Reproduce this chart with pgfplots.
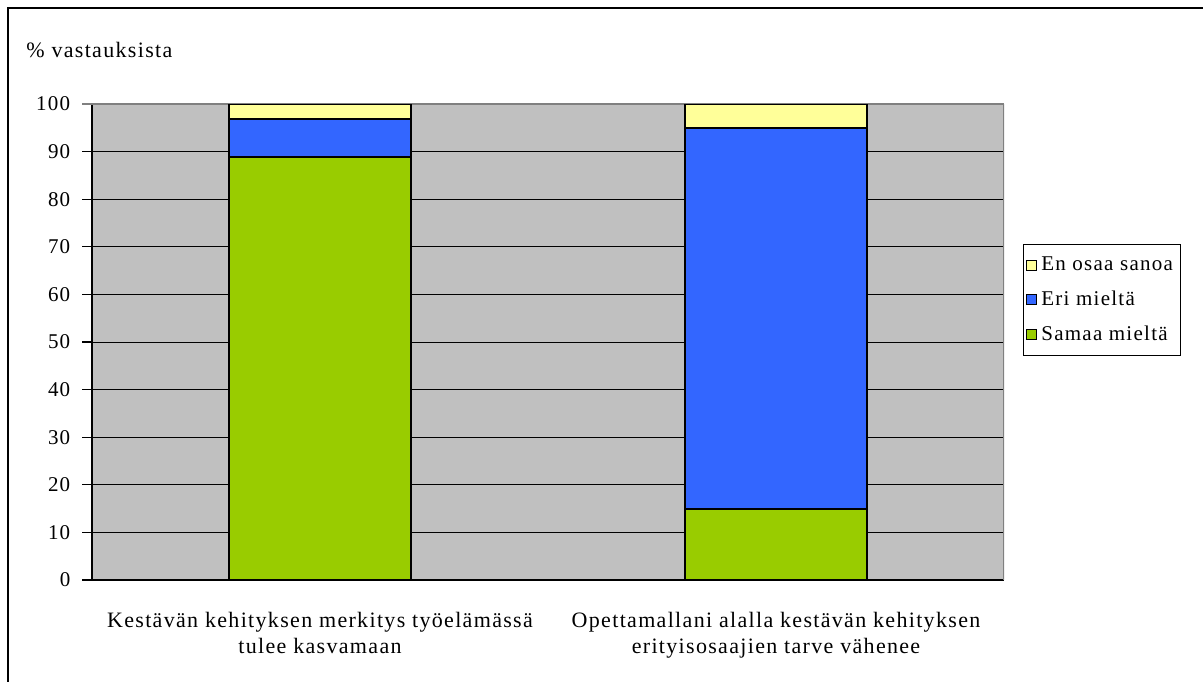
\documentclass[border=0pt]{standalone}
\usepackage{fontspec}
\setmainfont{Liberation Serif}[LetterSpace=6]
\usepackage{pgfplots}
\pgfplotsset{compat=1.18}
\definecolor{cgreen}{HTML}{99CC00}
\definecolor{cblue}{HTML}{3366FF}
\definecolor{cyellow}{HTML}{FFFF99}
\definecolor{cgray}{HTML}{C0C0C0}
\definecolor{cdark}{HTML}{808080}
\begin{document}
\fontsize{11pt}{13pt}\selectfont
\begin{tikzpicture}[x=0.5pt,y=0.5pt]
\useasboundingbox (0,0) rectangle (1203,681);
\clip (0,0) rectangle (1203,681);
\draw[line width=1.2pt] (8,-20) -- (8,673) -- (1230,673);
\node[anchor=base west,inner sep=0pt,font=\fontsize{11pt}{13pt}\selectfont] at (26,623) {\% vastauksista};
\begin{axis}[
  at={(46pt,50.5pt)}, anchor=south west,
  scale only axis, width=456pt, height=238pt,
  ybar stacked, bar width=91pt,
  xmin=-0.5, xmax=1.5, ymin=0, ymax=100,
  axis background/.style={fill=cgray},
  axis line style={black, line width=0.6pt},
  axis x line*=bottom, axis y line*=left,
  ytick={0,10,...,90},
  extra y ticks={100},
  extra y tick style={grid style={cdark, line width=0.8pt}, tick style={cdark, line width=0.6pt}},
  ymajorgrids, grid style={black, line width=0.5pt},
  ytick pos=left, tick align=outside, major tick length=5pt,
  tick style={black, line width=0.6pt},
  /pgf/number format/assume math mode=true,
  yticklabel style={font=\fontsize{10.5pt}{12pt}\selectfont, xshift=-2pt},
  xtick={0,1},
  xticklabels={{Kestävän kehityksen merkitys työelämässä\\tulee kasvamaan},{Opettamallani alalla kestävän kehityksen\\erityisosaajien tarve vähenee}},
  xticklabel style={align=center, font=\fontsize{11pt}{13pt}\selectfont, yshift=-7pt},
  x tick style={draw=none},
  extra x ticks={-0.5,0.5,1.5}, extra x tick labels={},
  extra x tick style={grid=none, tick style={draw=black, line width=0.6pt}, major tick length=5pt},
  legend style={at={(1.0208,0.588)}, anchor=west, draw=black, line width=0.4pt,
    font=\fontsize{10.5pt}{12pt}\selectfont, row sep=4.5pt, inner xsep=1.5pt, inner ysep=4pt,
    cells={anchor=west}},
  legend image code/.code={\draw[#1, draw=black, line width=0.5pt] (0pt,-2.5pt) rectangle (5pt,2.5pt);},
  reverse legend,
]
\addplot[fill=cgreen, draw=black, line width=0.9pt] coordinates {(0,88.8) (1,15)};
\addplot[fill=cblue, draw=black, line width=0.9pt] coordinates {(0,8) (1,80)};
\addplot[fill=cyellow, draw=black, line width=0.9pt] coordinates {(0,3.2) (1,5)};
\draw[cdark, line width=0.8pt] (rel axis cs:1,0) -- (rel axis cs:1,1);
\legend{Samaa mieltä, Eri mieltä, En osaa sanoa}
\end{axis}
\end{tikzpicture}
\end{document}
